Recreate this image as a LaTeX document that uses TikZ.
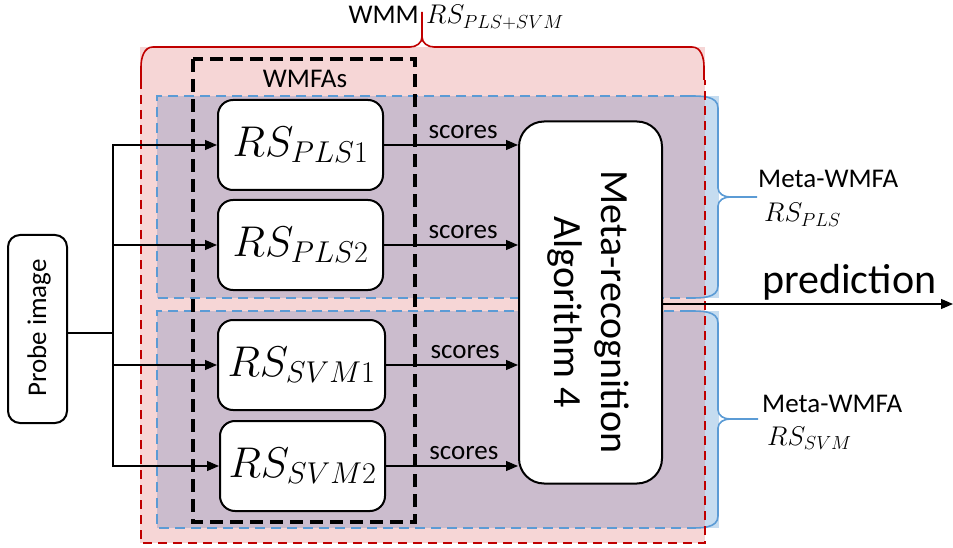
\documentclass[tikz,border=0pt]{standalone}
\usepackage{fix-cm}
\usepackage{fontspec}
\setmainfont{Carlito}
\usetikzlibrary{arrows.meta}
\definecolor{pinkf}{HTML}{F6D6D6}
\definecolor{mauvef}{HTML}{CBBCCD}
\definecolor{lbluef}{HTML}{C5DCF0}
\definecolor{redl}{HTML}{C00000}
\definecolor{bluel}{HTML}{5B9BD5}
\tikzset{
  rsbox/.style={draw, line width=2pt, rounded corners=15pt, fill=white, minimum width=165pt, minimum height=90pt, inner sep=0pt, font=\fontsize{43}{50}\selectfont},
  arr/.style={-{Triangle[length=12pt,width=10pt]}, line width=1.2pt},
  lbl/.style={font=\fontsize{27}{32}\selectfont, inner sep=0pt},
  reddash/.style={draw=redl, line width=1.6pt, dash pattern=on 9pt off 6pt},
  bluedash/.style={draw=bluel, line width=1.6pt, dash pattern=on 10pt off 6pt},
  bracered/.style={draw=redl, line width=1.6pt},
  braceblue/.style={draw=bluel, line width=1.6pt},
  scorelbl/.style={lbl, above=6pt}
}
\begin{document}
\begin{tikzpicture}[x=1pt,y=-1pt]
\useasboundingbox (0,0) rectangle (953,548);
% background regions
\fill[pinkf] (140,47) rectangle (705,543);
\fill[lbluef] (705,96) rectangle (719,298);
\fill[lbluef] (705,311) rectangle (719,528);
\fill[mauvef] (157,96) rectangle (705,298);
\fill[mauvef] (157,311) rectangle (705,528);
% blue dashed borders
\draw[bluedash] (690,96) -- (157,96) -- (157,298) -- (690,298);
\draw[bluedash] (690,311) -- (157,311) -- (157,528) -- (690,528);
% blue braces
\draw[braceblue] (688,96) to[out=0,in=90] (718,108) -- (718,188) to[out=-90,in=180] (730,197) -- (757,197);
\draw[braceblue] (730,197) to[out=180,in=90] (718,206) -- (718,286) to[out=-90,in=0] (688,298);
\draw[braceblue] (688,311) to[out=0,in=90] (718,323) -- (718,410) to[out=-90,in=180] (730,419) -- (758,419);
\draw[braceblue] (730,419) to[out=180,in=90] (718,428) -- (718,516) to[out=-90,in=0] (688,528);
% red dashed border and brace
\draw[reddash] (141,80) -- (141,543) -- (705,543) -- (705,80);
\draw[bracered] (141,80) -- (141,67) to[out=90,in=180] (153,47) -- (410,47) to[out=0,in=-90] (422,37) -- (422,12);
\draw[bracered] (422,37) to[out=-90,in=180] (434,47) -- (692,47) to[out=0,in=90] (704,67) -- (704,80);
% WMFAs dashed box
\draw[line width=4pt, dash pattern=on 13pt off 7pt] (193,59) rectangle (415,522);
\node[lbl] (wmfas) at (305,79) {WMFAs};
% top labels
\node[lbl, anchor=base east] (wmm) at (419,24) {WMM};
\node[lbl, anchor=base west] (wmmrs) at (426,24) {$RS_{PLS+SVM}$};
% boxes
\node[rsbox] (p1) at (300.5,145) {$RS_{PLS1}$};
\node[rsbox] (p2) at (300.5,245) {$RS_{PLS2}$};
\node[rsbox, minimum width=167pt] (s1) at (301.5,365) {$RS_{SVM1}$};
\node[rsbox] (s2) at (302.5,466) {$RS_{SVM2}$};
\node[draw, line width=2pt, rounded corners=25pt, fill=white, minimum width=143pt, minimum height=362pt] (meta) at (590.5,302.5) {};
\node[rotate=-90, align=center, font=\fontsize{40}{47}\selectfont, inner sep=0pt] (metatxt) at (588,312) {Meta-recognition\\Algorithm 4};
\node[draw, line width=2pt, rounded corners=12pt, fill=white, minimum width=59pt, minimum height=188pt] (probe) at (37.5,329) {};
\node[lbl, rotate=90] (probetxt) at (39,328) {Probe image};
% probe connectors
\coordinate (j) at (113,333);
\draw[line width=1.2pt] (j -| probe.east) -- (j);
\draw[arr] (j) |- (p1.west);
\draw[arr] (j) |- (p2.west);
\draw[arr] (j) |- (s1.west);
\draw[arr] (j) |- (s2.west);
% scores
\draw[arr] (p1.east) -- (p1.east -| meta.west) node[scorelbl, pos=0.59] {scores};
\draw[arr] (p2.east) -- (p2.east -| meta.west) node[scorelbl, pos=0.59] {scores};
\draw[arr] (s1.east) -- (s1.east -| meta.west) node[scorelbl, pos=0.6] {scores};
\draw[arr] (s2.east) -- (s2.east -| meta.west) node[scorelbl, pos=0.59] {scores};
% prediction
\coordinate (out) at (953,304);
\draw[arr] (meta.east |- out) -- (out);
\node[anchor=base west, inner sep=0pt, font=\fontsize{42}{48}\selectfont] (pred) at (762,293) {prediction};
% meta-WMFA labels
\node[lbl, anchor=base west] (mw1) at (758,188) {Meta-WMFA};
\node[lbl, anchor=base west] (mw1rs) at (764,222) {$RS_{PLS}$};
\node[lbl, anchor=base west] (mw2) at (762,412) {Meta-WMFA};
\node[lbl, anchor=base west] (mw2rs) at (767,445) {$RS_{SVM}$};
\end{tikzpicture}
\end{document}
